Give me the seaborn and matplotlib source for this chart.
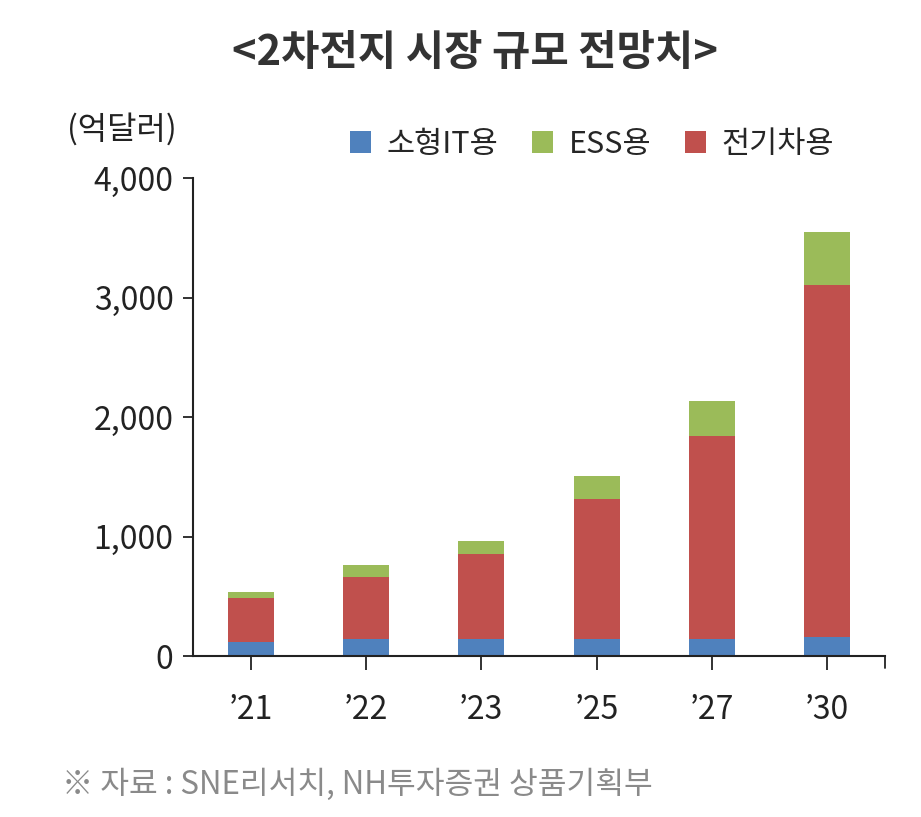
import pandas as pd
import seaborn as sns
import matplotlib.pyplot as plt

# values (억달러)
years = ['’21', '’22', '’23', '’25', '’27', '’30']
it_small = [120, 140, 140, 142, 142, 162]
ev = [365, 524, 714, 1172, 1700, 2943]
ess = [53, 98, 108, 195, 293, 441]

series = ['소형IT용', 'ESS용', '전기차용']
colors = {'소형IT용': '#4F81BD', 'ESS용': '#9BBB59', '전기차용': '#C0504D'}

df = pd.DataFrame({'year': years, '소형IT용': it_small, '전기차용': ev, 'ESS용': ess})
# stacking order bottom -> top: IT, EV, ESS
df['lvl_it'] = df['소형IT용']
df['lvl_ev'] = df['lvl_it'] + df['전기차용']
df['lvl_ess'] = df['lvl_ev'] + df['ESS용']

sns.set_theme(style='white')
plt.rcParams['font.family'] = ['Noto Sans CJK KR', 'DejaVu Sans']

fig = plt.figure(figsize=(9.21, 8.17), dpi=100)
ax = fig.add_axes([0.2096, 0.197, 0.7513, 0.585])

# draw cumulative totals tallest first so they stack visually
for col, name in [('lvl_ess', 'ESS용'), ('lvl_ev', '전기차용'), ('lvl_it', '소형IT용')]:
    sns.barplot(data=df, x='year', y=col, color=colors[name], width=0.4,
                saturation=1, ax=ax, label=name, edgecolor='none', linewidth=0)

ax.set_xlim(-0.5, 5.5)
ax.set_ylim(0, 4000)
ax.set_yticks([0, 1000, 2000, 3000, 4000])
ax.set_yticklabels(['0', '1,000', '2,000', '3,000', '4,000'])
ax.set_xlabel('')
ax.set_ylabel('')

for s in ['top', 'right']:
    ax.spines[s].set_visible(False)
for s in ['left', 'bottom']:
    ax.spines[s].set_color('#222222')
    ax.spines[s].set_linewidth(1.5)

ax.tick_params(axis='y', direction='out', length=7, width=1.3, color='#222222',
               labelsize=23, labelcolor='#222222', pad=7, left=True)
ax.tick_params(axis='x', direction='out', length=10, width=1.3, color='#222222',
               labelsize=23, labelcolor='#222222', pad=17, bottom=True)
for lbl in ax.get_xticklabels() + ax.get_yticklabels():
    lbl.set_fontweight('light')
# closing tick at right end of the x axis
ax.plot([1, 1], [0, -0.025], transform=ax.transAxes, color='#222222',
        lw=1.3, clip_on=False)

handles, labels = ax.get_legend_handles_labels()
order = [labels.index(n) for n in series]
ax.legend([handles[i] for i in order], series, loc='lower left',
          bbox_to_anchor=(0.2, 1.0), ncol=3, frameon=False, fontsize=22,
          handlelength=0.7, handleheight=0.7, handletextpad=0.5,
          columnspacing=1.1, borderaxespad=0.2)

fig.text(0.516, 0.935, '<2차전지 시장 규모 전망치>', ha='center', va='center',
         fontsize=30, fontweight='bold', color='#333333')
fig.text(0.073, 0.842, '(억달러)', ha='left', va='center', fontsize=23,
         color='#222222', fontweight='light')
fig.text(0.067, 0.04, '※ 자료 : SNE리서치, NH투자증권 상품기획부', ha='left',
         va='center', fontsize=22.5, color='#8a8a8a', fontweight='light')

fig.savefig('out.png', dpi=100)
